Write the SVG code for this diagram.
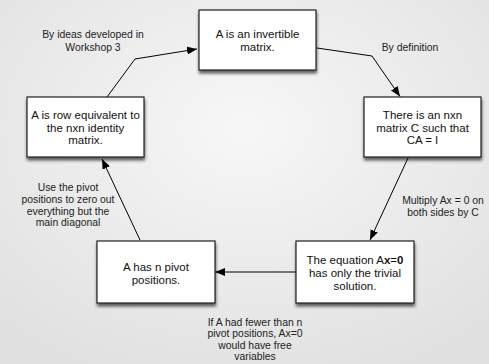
<svg xmlns="http://www.w3.org/2000/svg" width="489" height="364" viewBox="0 0 489 364">
<defs>
<radialGradient id="bg" cx="50%" cy="35%" r="75%">
<stop offset="0" stop-color="#f7f7f7"/>
<stop offset="1" stop-color="#e0e0e0"/>
</radialGradient>
<filter id="sh" x="-20%" y="-20%" width="140%" height="150%">
<feDropShadow dx="0.5" dy="3" stdDeviation="1.8" flood-color="#000" flood-opacity="0.6"/>
</filter>
<marker id="ah" viewBox="0 0 10 8" refX="10" refY="4" markerWidth="10" markerHeight="8" markerUnits="userSpaceOnUse" orient="auto">
<path d="M0,0 L10,4 L0,8 Z" fill="#000"/>
</marker>
</defs>
<style>
.box{fill:#fff;stroke:#222;stroke-width:1.2;filter:url(#sh)}
.nt{font-family:"Liberation Sans",Arial,sans-serif;font-size:11.5px;fill:#111;text-anchor:middle}
.lb{font-family:"Liberation Sans",Arial,sans-serif;font-size:10.4px;fill:#222;text-anchor:middle}
.cn{fill:none;stroke:#000;stroke-width:1;marker-end:url(#ah)}
</style>
<rect width="489" height="364" fill="url(#bg)"/>
<g id="connectors">
<polyline class="cn" points="107,97 135,59 197,49"/>
<polyline class="cn" points="317,48 372,56 400,96.5"/>
<line class="cn" x1="408" y1="158" x2="370" y2="240"/>
<line class="cn" x1="296" y1="272" x2="215" y2="272"/>
<line class="cn" x1="140" y1="240" x2="102" y2="159"/>
</g>
<g id="labels">
<text class="lb" x="93" y="38">By ideas developed in</text>
<text class="lb" x="93" y="51">Workshop 3</text>
<text class="lb" x="410" y="51">By definition</text>
<text class="lb" x="443" y="204">Multiply Ax = 0 on</text>
<text class="lb" x="443" y="215.5">both sides by C</text>
<text class="lb" x="68" y="191">Use the pivot</text>
<text class="lb" x="68" y="202.8">positions to zero out</text>
<text class="lb" x="68" y="214.6">everything but the</text>
<text class="lb" x="68" y="226.4">main diagonal</text>
<text class="lb" x="255" y="325.5">If A had fewer than n</text>
<text class="lb" x="255" y="337">pivot positions, Ax=0</text>
<text class="lb" x="255" y="348.5">would have free</text>
<text class="lb" x="255" y="360">variables</text>
</g>
<g id="n-invertible">
<rect class="box" x="199" y="10" width="117" height="60"/>
<text class="nt" x="257.5" y="38">A is an invertible</text>
<text class="nt" x="257.5" y="50.5">matrix.</text>
</g>
<g id="n-exists-c">
<rect class="box" x="364" y="97" width="117" height="60"/>
<text class="nt" x="422.5" y="119">There is an nxn</text>
<text class="nt" x="422.5" y="131.5">matrix C such that</text>
<text class="nt" x="422.5" y="144">CA = I</text>
</g>
<g id="n-trivial">
<rect class="box" x="296" y="241" width="118" height="62"/>
<text class="nt" x="355" y="264">The equation A<tspan font-weight="bold">x</tspan>=<tspan font-weight="bold">0</tspan></text>
<text class="nt" x="355" y="277">has only the trivial</text>
<text class="nt" x="355" y="289.5">solution.</text>
</g>
<g id="n-pivots">
<rect class="box" x="97" y="241" width="118" height="62"/>
<text class="nt" x="156" y="271">A has n pivot</text>
<text class="nt" x="156" y="283.5">positions.</text>
</g>
<g id="n-row-equiv">
<rect class="box" x="27" y="97" width="117" height="60"/>
<text class="nt" x="85.5" y="119">A is row equivalent to</text>
<text class="nt" x="85.5" y="131.5">the nxn identity</text>
<text class="nt" x="85.5" y="144">matrix.</text>
</g>
</svg>
